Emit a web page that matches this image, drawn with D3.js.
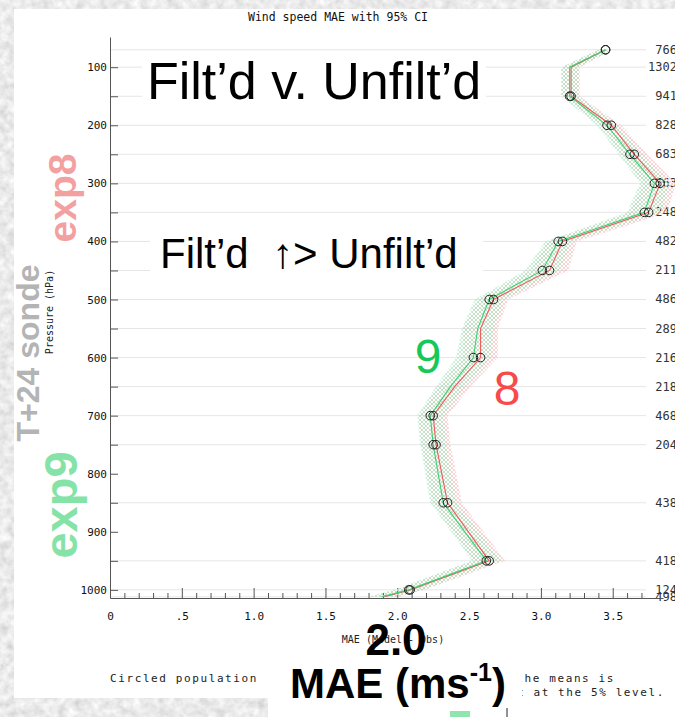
<!DOCTYPE html>
<html>
<head>
<meta charset="utf-8">
<script src="https://d3js.org/d3.v7.min.js"></script>
<style>
  body { margin: 0; padding: 0; }
  svg { display: block; }
</style>
</head>
<body>
<div id="chart"></div>
<script>
// pressure levels (hPa) and values
const levels = [70, 100, 150, 200, 250, 300, 350, 400, 450, 500, 550, 600, 650, 700, 750, 850, 950, 1000, 1012]
const counts = ["766", "1302", "941", "828", "683", "563", "248", "482", "211", "486", "289", "216", "218", "468", "204", "438", "418", "124", "498"]
// exp9 (green) and exp8 (red) wind speed MAE
const mae9 = [3.45, 3.20, 3.20, 3.46, 3.62, 3.79, 3.72, 3.12, 3.01, 2.64, 2.56, 2.53, 2.37, 2.23, 2.25, 2.32, 2.62, 2.08, 1.89]
const mae8 = [3.45, 3.21, 3.21, 3.49, 3.65, 3.83, 3.75, 3.15, 3.06, 2.67, 2.58, 2.58, 2.40, 2.25, 2.27, 2.35, 2.64, 2.09, 1.91]
// half width of the 95% CI
const ci9 = [0.05, 0.06, 0.06, 0.07, 0.08, 0.10, 0.12, 0.09, 0.12, 0.10, 0.11, 0.12, 0.10, 0.09, 0.09, 0.09, 0.10, 0.10, 0.10]
const ci8 = [0.05, 0.06, 0.06, 0.07, 0.09, 0.11, 0.13, 0.10, 0.13, 0.10, 0.12, 0.12, 0.11, 0.10, 0.10, 0.10, 0.11, 0.10, 0.10]
// levels where the difference is circled
const circled = [true, false, true, true, true, true, true, true, true, true, false, true, false, true, true, true, true, true, false]

const yTickValues = d3.range(100, 1001, 50)
const yTickLabels = ["100", "200", "300", "400", "500", "600", "700", "800", "900", "1000"]
const xTickValues = d3.range(0, 38).map(i => i / 10)
const xTickLabels = ["0", ".5", "1.0", "1.5", "2.0", "2.5", "3.0", "3.5"]

var width = 675,
    height = 717;

const mono = "'DejaVu Sans Mono', monospace"
const sans = "'Liberation Sans', Arial, Helvetica, sans-serif"

var svg = d3.select("#chart")
  .append("svg")
    .attr("width", width)
    .attr("height", height);

const defs = svg.append("defs")

// grey marble background
const marble = defs.append("filter").attr("id", "marble").attr("x", 0).attr("y", 0).attr("width", 1).attr("height", 1)
marble.append("feTurbulence")
  .attr("type", "fractalNoise").attr("baseFrequency", 0.12).attr("numOctaves", 3).attr("seed", 7)
marble.append("feColorMatrix")
  .attr("type", "matrix")
  .attr("values", "0.45 0 0 0 0.6  0.45 0 0 0 0.6  0.45 0 0 0 0.6  0 0 0 0 1")

// hatch patterns for the CI bands
const hatch = (id, col) => {
  const p = defs.append("pattern").attr("id", id)
    .attr("width", 4).attr("height", 4).attr("patternUnits", "userSpaceOnUse")
  p.append("path").attr("d", "M0,4 L4,0 M-1,1 L1,-1 M3,5 L5,3 M0,0 L4,4")
    .attr("stroke", col).attr("stroke-width", 0.7)
}
hatch("hatch8", "#f3b9b9")
hatch("hatch9", "#a9e6c0")

svg.append("rect").attr("width", width).attr("height", height)
  .attr("filter", "url(#marble)")

// white panels
svg.append("rect").attr("x", 14).attr("y", 9).attr("width", width - 14).attr("height", 689).attr("fill", "white")
svg.append("rect").attr("x", 268).attr("y", 698).attr("width", width - 268).attr("height", 19).attr("fill", "white")

// scales
const x = d3.scaleLinear().domain([0, 3.85]).range([110, 663])
const y = d3.scaleLinear().domain([48, 1014]).range([37, 598])

// title
svg.append("text")
  .attr("x", 338).attr("y", 21)
  .attr("text-anchor", "middle")
  .style("font-family", mono).style("font-size", "11.5px").style("fill", "#111")
  .text("Wind speed MAE with 95% CI")

// gridlines at data levels
svg.append("g").selectAll("line")
  .data(levels)
  .join("line")
    .attr("x1", x(0)).attr("x2", 646)
    .attr("y1", d => y(d)).attr("y2", d => y(d))
    .attr("stroke", "#e6e6e6").attr("stroke-width", 1)

// counts on the right
svg.append("g").selectAll("text")
  .data(levels)
  .join("text")
    .attr("x", 677)
    .attr("y", d => y(d) + 4)
    .attr("text-anchor", "end")
    .style("font-family", mono).style("font-size", "12px").style("fill", "#333")
    .text((d, i) => counts[i])

// y axis
const yAxis = d3.axisLeft(y)
  .tickValues(yTickValues)
  .tickSizeInner(-8).tickSizeOuter(0).tickPadding(3)
  .tickFormat(d => d % 100 === 0 ? yTickLabels[d / 100 - 1] : "")
const gy = svg.append("g").attr("transform", `translate(${x(0)},0)`).call(yAxis)
gy.select(".domain").attr("stroke", "#555")
gy.selectAll(".tick line").attr("stroke", "#555")
gy.selectAll(".tick text").style("font-family", mono).style("font-size", "11px").attr("fill", "#111")

// x axis
const xAxis = d3.axisBottom(x)
  .tickValues(xTickValues)
  .tickSizeInner(-5).tickSizeOuter(0).tickPadding(14)
  .tickFormat(d => {
    const i = Math.round(d * 10)
    return i % 5 === 0 ? xTickLabels[i / 5] : ""
  })
const gx = svg.append("g").attr("transform", `translate(0,${y(1014)})`).call(xAxis)
gx.select(".domain").attr("stroke", "#555")
gx.selectAll(".tick line").attr("stroke", "#555")
  .attr("y2", d => Math.round(d * 10) % 5 === 0 ? -10 : -5)
gx.selectAll(".tick text").style("font-family", mono).style("font-size", "11px").attr("fill", "#111")

svg.append("text")
  .attr("x", 393).attr("y", 643)
  .attr("text-anchor", "middle")
  .style("font-family", mono).style("font-size", "10px").style("fill", "#222")
  .text("MAE (Model - Obs)")

svg.append("text")
  .attr("transform", "translate(53,312) rotate(-90)")
  .attr("text-anchor", "middle")
  .style("font-family", mono).style("font-size", "10px").style("fill", "#222")
  .text("Pressure (hPa)")

// CI bands and lines
const rows8 = levels.map((p, i) => ({p: p, v: mae8[i], ci: ci8[i], c: circled[i]}))
const rows9 = levels.map((p, i) => ({p: p, v: mae9[i], ci: ci9[i], c: circled[i]}))

const band = d3.area()
  .y(d => y(d.p))
  .x0(d => x(d.v - d.ci))
  .x1(d => x(d.v + d.ci))
const line = d3.line()
  .x(d => x(d.v))
  .y(d => y(d.p))

svg.append("path").datum(rows8).attr("d", band).attr("fill", "url(#hatch8)").attr("opacity", 0.9)
svg.append("path").datum(rows9).attr("d", band).attr("fill", "url(#hatch9)").attr("opacity", 0.9)
svg.append("path").datum(rows8).attr("d", line).attr("fill", "none").attr("stroke", "#ee5b5b").attr("stroke-width", 1.1)
svg.append("path").datum(rows9).attr("d", line).attr("fill", "none").attr("stroke", "#3fcf72").attr("stroke-width", 1.1)

svg.append("g").selectAll("circle")
  .data(rows9.concat(rows8).filter(d => d.c))
  .join("circle")
    .attr("cx", d => x(d.v))
    .attr("cy", d => y(d.p))
    .attr("r", 4.3)
    .attr("fill", "none")
    .attr("stroke", "#222")
    .attr("stroke-width", 1)

// footer
const foot = svg.append("g")
  .style("font-family", mono).style("font-size", "11px").style("letter-spacing", "1.6px").style("fill", "#222")
foot.append("text").attr("x", 110).attr("y", 682).text("Circled population")
foot.append("text").attr("x", 615).attr("y", 682).attr("text-anchor", "end")
  .text("where the difference between the means is")
foot.append("text").attr("x", 665).attr("y", 696).attr("text-anchor", "end")
  .text("statistically significant at the 5% level.")

// slide annotations
svg.append("rect").attr("x", 142).attr("y", 52).attr("width", 344).attr("height", 56).attr("fill", "white")
svg.append("text")
  .attr("x", 147).attr("y", 99)
  .style("font-family", sans).style("font-size", "52px").style("fill", "black")
  .text("Filt’d v. Unfilt’d")

svg.append("rect").attr("x", 150).attr("y", 226).attr("width", 333).attr("height", 52).attr("fill", "white")
svg.append("text")
  .attr("x", 160).attr("y", 268)
  .style("font-family", sans).style("font-size", "42px").style("fill", "black")
  .style("white-space", "pre")
  .text("Filt’d  ↑> Unfilt’d")

svg.append("text")
  .attr("x", 428).attr("y", 373).attr("text-anchor", "middle")
  .style("font-family", sans).style("font-size", "48px").style("fill", "#14c95a")
  .text("9")
svg.append("text")
  .attr("x", 507).attr("y", 405).attr("text-anchor", "middle")
  .style("font-family", sans).style("font-size", "48px").style("fill", "#f74b4b")
  .text("8")

svg.append("text")
  .attr("transform", "translate(76,198) rotate(-90)")
  .attr("text-anchor", "middle")
  .style("font-family", sans).style("font-size", "39px").style("font-weight", "bold").style("fill", "#f3a0a0")
  .text("exp8")
svg.append("text")
  .attr("transform", "translate(77,505) rotate(-90)")
  .attr("text-anchor", "middle")
  .style("font-family", sans).style("font-size", "47px").style("font-weight", "bold").style("fill", "#86e3a8")
  .text("exp9")
svg.append("text")
  .attr("transform", "translate(39,353) rotate(-90)")
  .attr("text-anchor", "middle")
  .style("font-family", sans).style("font-size", "32px").style("font-weight", "bold").style("fill", "#b4b4b4")
  .text("T+24 sonde")

svg.append("rect").attr("x", 268).attr("y", 652).attr("width", 254).attr("height", 65).attr("fill", "white")
svg.append("text")
  .attr("x", 396).attr("y", 655).attr("text-anchor", "middle")
  .style("font-family", sans).style("font-size", "44px").style("font-weight", "bold").style("fill", "black")
  .text("2.0")
const mae = svg.append("text")
  .attr("x", 290).attr("y", 698)
  .style("font-family", sans).style("font-size", "42px").style("font-weight", "bold").style("fill", "black")
mae.append("tspan").text("MAE (ms")
mae.append("tspan").attr("dy", -17).style("font-size", "25px").text("-1")
mae.append("tspan").attr("dy", 17).text(")")

svg.append("rect").attr("x", 450).attr("y", 711).attr("width", 20).attr("height", 6).attr("fill", "#8fe6ad")
svg.append("line").attr("x1", 507).attr("x2", 507).attr("y1", 708).attr("y2", 717).attr("stroke", "#222")
</script>
</body>
</html>
